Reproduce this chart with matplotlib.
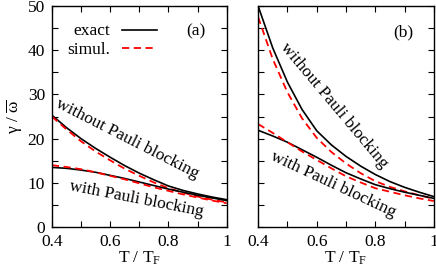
import numpy as np
import matplotlib
matplotlib.use("Agg")
import matplotlib.pyplot as plt
from matplotlib.ticker import MultipleLocator, FormatStrFormatter

plt.rcParams["font.family"] = ["Liberation Serif", "DejaVu Serif"]
plt.rcParams["mathtext.fontset"] = "custom"
plt.rcParams["mathtext.rm"] = "Liberation Serif"
plt.rcParams["mathtext.it"] = "Liberation Serif:italic"

# Data (T / T_F at steps of 0.05)
T = [0.40, 0.45, 0.50, 0.55, 0.60, 0.65, 0.70, 0.75, 0.80, 0.85, 0.90, 0.95, 1.00]

# panel (a)
a_without_exact = [25.3, 22.5, 20.0, 17.8, 15.8, 13.9, 12.2, 10.7, 9.3, 8.3, 7.5, 6.8, 6.2]
a_without_simul = [25.0, 22.1, 19.4, 17.1, 15.1, 13.2, 11.6, 10.1, 8.8, 7.8, 6.9, 6.2, 5.6]
a_with_exact = [13.5, 13.3, 12.9, 12.4, 11.7, 11.0, 10.2, 9.4, 8.6, 7.9, 7.2, 6.6, 6.0]
a_with_simul = [14.0, 13.6, 13.1, 12.4, 11.6, 10.8, 9.9, 9.0, 8.2, 7.4, 6.7, 6.0, 5.4]

# panel (b)
b_without_exact = [50.0, 40.5, 32.8, 26.6, 21.8, 18.6, 16.0, 13.8, 11.9, 10.3, 9.0, 7.9, 6.9]
b_without_simul = [47.5, 38.0, 30.5, 24.6, 20.2, 17.0, 14.4, 12.2, 10.4, 9.1, 8.1, 7.2, 6.4]
b_with_exact = [21.9, 20.6, 19.2, 17.5, 15.8, 14.0, 12.3, 10.9, 9.6, 8.7, 7.9, 7.2, 6.5]
b_with_simul = [23.3, 21.3, 19.2, 17.1, 15.2, 13.3, 11.5, 10.1, 8.8, 8.0, 7.2, 6.5, 5.9]

fig = plt.figure(figsize=(4.36, 2.72), dpi=100)
ax_a = fig.add_axes([0.119, 0.165, 0.401, 0.813])
ax_b = fig.add_axes([0.592, 0.165, 0.403, 0.813])

dash = (0, (4, 2.5))
fs = 12.5

for ax, data in [(ax_a, (a_without_exact, a_without_simul, a_with_exact, a_with_simul)),
                 (ax_b, (b_without_exact, b_without_simul, b_with_exact, b_with_simul))]:
    wo_e, wo_s, w_e, w_s = data
    ax.plot(T, wo_e, color="black", lw=1.2)
    ax.plot(T, wo_s, color="red", lw=1.3, linestyle=dash)
    ax.plot(T, w_e, color="black", lw=1.2)
    ax.plot(T, w_s, color="red", lw=1.3, linestyle=dash)

    ax.set_xlim(0.4, 1.0)
    ax.set_ylim(0, 50)
    ax.xaxis.set_major_locator(MultipleLocator(0.2))
    ax.xaxis.set_minor_locator(MultipleLocator(0.1))
    ax.yaxis.set_major_locator(MultipleLocator(10))
    ax.yaxis.set_minor_locator(MultipleLocator(5))
    ax.xaxis.set_major_formatter(FormatStrFormatter("%g"))
    ax.tick_params(which="both", direction="in", top=True, right=True,
                   length=4, width=0.8, labelsize=fs, pad=5)
    ax.set_xlabel(r"T / T$_\mathrm{F}$", fontsize=fs, labelpad=0)
    for s in ax.spines.values():
        s.set_linewidth(1.0)

ax_a.set_ylabel(r"$\mathrm{\gamma}$ / $\overline{\mathrm{\omega}}$", fontsize=fs, labelpad=2)
ax_b.tick_params(labelleft=False)

# legend drawn like gnuplot key
ax_a.text(0.335, 0.886, "exact", fontsize=fs, ha="right", va="center", transform=ax_a.transAxes)
ax_a.text(0.335, 0.803, "simul.", fontsize=fs, ha="right", va="center", transform=ax_a.transAxes)
ax_a.plot([0.40, 0.60], [0.893, 0.893], color="black", lw=1.2, transform=ax_a.transAxes)
ax_a.plot([0.40, 0.60], [0.81, 0.81], color="red", lw=1.3, linestyle=dash, transform=ax_a.transAxes)

ax_a.text(0.77, 0.886, "(a)", fontsize=fs, ha="left", va="center", transform=ax_a.transAxes)
ax_b.text(0.77, 0.88, "(b)", fontsize=fs, ha="left", va="center", transform=ax_b.transAxes)

ax_a.text(0.66, 19.9, "without Pauli blocking", fontsize=fs, rotation=-27,
          ha="center", va="center", rotation_mode="anchor")
ax_a.text(0.69, 6.3, "with Pauli blocking", fontsize=fs, rotation=-11,
          ha="center", va="center", rotation_mode="anchor")
ax_b.text(0.659, 27.4, "without Pauli blocking", fontsize=fs, rotation=-50,
          ha="center", va="center", rotation_mode="anchor")
ax_b.text(0.656, 9.7, "with Pauli blocking", fontsize=fs, rotation=-25,
          ha="center", va="center", rotation_mode="anchor")

fig.savefig("out.png", dpi=100)
